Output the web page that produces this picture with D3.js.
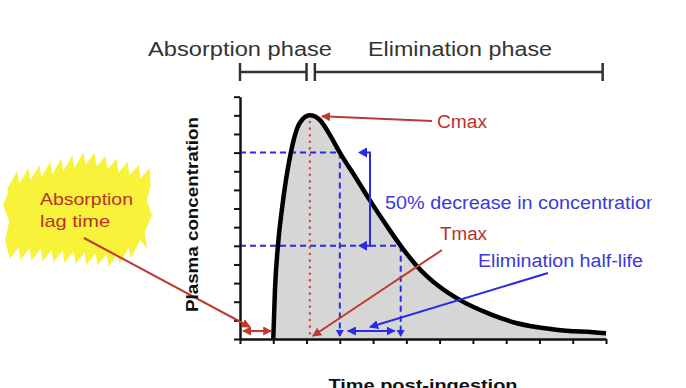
<!DOCTYPE html>
<html><head><meta charset="utf-8">
<script src="https://cdn.jsdelivr.net/npm/d3@7"></script>
<style>body{margin:0;background:#fff}svg{display:block}text{font-family:Arial,"Liberation Sans",sans-serif}</style>
</head><body><svg id="c" width="686" height="388"></svg>
<script>
// Data (time in x-tick units, concentration in y-tick units)
const curveT = [1.0, 1.05, 1.15, 1.27, 1.5, 1.8, 2.1, 2.4, 2.7, 3.0, 3.5, 3.9, 4.4, 4.83, 5.3, 6.0, 6.6, 7.5, 8.3, 9.5, 10.9, 11.0];
const curveC = [0, 2.6, 5.2, 7.1, 9.75, 11.6, 12.0, 11.75, 10.95, 10.0, 8.6, 7.45, 6.1, 5.0, 3.95, 2.8, 2.1, 1.35, 0.86, 0.5, 0.32, 0.3];
const xTicks = [0,1,2,3,4,5,6,7,8,9,10,11];
const yTicks = [0,1,2,3,4,5,6,7,8,9,10,11,12,13];
const lagTime = 1.0, tmax = 2.1, cmax = 12.0;
const t80 = 3.0, c80 = 10.0, tHalf = 4.83, cHalf = 5.0;
const phases = [{label:"Absorption phase", t0:0, t1:2.0, cx:240}, {label:"Elimination phase", t0:2.25, t1:10.9, cx:460}];
const labels = {y:"Plasma concentration", x:"Time post-ingestion"};

const svg = d3.select("#c");
const x = d3.scaleLinear().domain([0,11]).range([240,606]);
const y = d3.scaleLinear().domain([0,13]).range([339,96.7]);
const red = "#c0392f", blue = "#2b2be6", txtRed = "#b8322c", txtBlue = "#3a3ad8";

const defs = svg.append("defs");
function marker(id, color){
  defs.append("marker").attr("id",id).attr("viewBox","0 0 10 10").attr("refX",9).attr("refY",5)
    .attr("markerWidth",4.5).attr("markerHeight",4.5).attr("orient","auto-start-reverse")
    .append("path").attr("d","M0,0L10,5L0,10z").attr("fill",color);
}
marker("ar", red); marker("ab", blue);
defs.append("clipPath").attr("id","clipR").append("rect").attr("x",0).attr("y",0).attr("width",652).attr("height",388);

function txt(s, px, py, size, color, len, opts={}){
  const t = svg.append("text").attr("x",px).attr("y",py).attr("fill",color).attr("font-size",size).text(s);
  if(len) t.attr("textLength",len).attr("lengthAdjust","spacingAndGlyphs");
  if(opts.anchor) t.attr("text-anchor",opts.anchor);
  if(opts.bold) t.attr("font-weight","bold");
  if(opts.clip) t.attr("clip-path",opts.clip);
  return t;
}

// Yellow highlighter blob (sawtooth brush edges)
(function(){
  const lerp=(pts,xx)=>{for(let i=0;i<pts.length-1;i++){const [a,b]=[pts[i],pts[i+1]]; if(xx>=a[0]&&xx<=b[0]) return a[1]+(b[1]-a[1])*(xx-a[0])/(b[0]-a[0]);} return pts[pts.length-1][1];};
  const topP=[[8,176],[88,153],[150,170]], botP=[[10,257],[115,265],[145,248]];
  const P=[];
  for(let xx=8; xx<146; xx+=11){ P.push([xx, lerp(topP,xx)+13]); P.push([xx+9, lerp(topP,xx+9)]); }
  P.push([150,185]); P.push([146,200]); P.push([151,215]); P.push([144,232]); P.push([146,246]);
  for(let xx=140; xx>10; xx-=11){ P.push([xx, lerp(botP,xx)-12]); P.push([xx-9, lerp(botP,xx-9)]); }
  P.push([6,240]); P.push([10,222]); P.push([4,205]); P.push([9,192]);
  svg.append("path").attr("d", d3.line()(P)+"Z").attr("fill","#f7f23a").attr("stroke","#f7f23a").attr("stroke-width",1.5);
})();
txt("Absorption",40,205,17,txtRed,93);
txt("lag time",40,227,17,txtRed,70);

// Area and curve
const pts = curveT.map((t,i)=>[t,curveC[i]]);
svg.append("path").attr("d", d3.area().x(d=>x(d[0])).y0(y(0)).y1(d=>y(d[1])).curve(d3.curveMonotoneX)(pts))
  .attr("fill","#d6d6d6");

// Dashed guide lines
const dash = (x1,y1,x2,y2)=>svg.append("line").attr("x1",x1).attr("y1",y1).attr("x2",x2).attr("y2",y2)
  .attr("stroke",blue).attr("stroke-width",2).attr("stroke-dasharray","6,4");
dash(x(0),y(c80),x(t80),y(c80));
dash(x(0),y(cHalf),x(tHalf),y(cHalf));
dash(x(t80),y(c80),x(t80),y(0)-3);
dash(x(tHalf),y(cHalf),x(tHalf),y(0)-3);
[t80,tHalf].forEach(t=>svg.append("path").attr("d",`M${x(t)-4},${y(0)-9}L${x(t)+4},${y(0)-9}L${x(t)},${y(0)-2}z`).attr("fill",blue));

// Tmax dotted
svg.append("line").attr("x1",x(tmax)).attr("x2",x(tmax)).attr("y1",y(cmax)).attr("y2",y(0))
  .attr("stroke","#d44a4a").attr("stroke-width",2.5).attr("stroke-dasharray","0.1,6.5").attr("stroke-linecap","round");

svg.append("path").attr("d", d3.line().x(d=>x(d[0])).y(d=>y(d[1])).curve(d3.curveMonotoneX)(pts))
  .attr("fill","none").attr("stroke","#000").attr("stroke-width",4.5);

// Axes
const ax = svg.append("g").attr("transform",`translate(0,${y(0)})`)
  .call(d3.axisBottom(x).tickValues(xTicks).tickFormat("").tickSize(5).tickSizeOuter(0));
const ay = svg.append("g").attr("transform",`translate(${x(0)},0)`)
  .call(d3.axisLeft(y).tickValues(yTicks).tickFormat("").tickSize(6).tickSizeOuter(0));
[ax,ay].forEach(g=>{g.select(".domain").attr("stroke","#111").attr("stroke-width",2.5);
  g.selectAll(".tick line").attr("stroke","#111").attr("stroke-width",2);});

// Blue bracket
const bx = 370;
svg.append("path").attr("d",`M${bx-8},${y(c80)}L${bx},${y(c80)}L${bx},${y(cHalf)}L${bx-8},${y(cHalf)}`)
  .attr("fill","none").attr("stroke",blue).attr("stroke-width",2);
[y(c80),y(cHalf)].forEach(py=>svg.append("path").attr("d",`M${bx-3},${py-5}L${bx-3},${py+5}L${bx-12},${py}z`).attr("fill",blue));

// double arrows
svg.append("line").attr("x1",x(t80)+8).attr("x2",x(tHalf)-6).attr("y1",331).attr("y2",331)
  .attr("stroke",blue).attr("stroke-width",2).attr("marker-start","url(#ab)").attr("marker-end","url(#ab)");
svg.append("line").attr("x1",x(0)+3).attr("x2",x(lagTime)-2).attr("y1",331).attr("y2",331)
  .attr("stroke",red).attr("stroke-width",2).attr("marker-start","url(#ar)").attr("marker-end","url(#ar)");

// annotation arrows
const arrow=(x1,y1,x2,y2,c,m)=>svg.append("line").attr("x1",x1).attr("y1",y1).attr("x2",x2).attr("y2",y2)
  .attr("stroke",c).attr("stroke-width",2).attr("marker-end",`url(#${m})`);
arrow(432,121,x(tmax)+12,y(cmax)+1,red,"ar");
arrow(442,250,x(tmax)+3,336,red,"ar");
arrow(84,238,250,327,red,"ar");
arrow(548,273,370,327,blue,"ab");

txt("Cmax",437,128,18,txtRed,50);
txt("Tmax",440,240,18,txtRed,47);
txt("Elimination half-life",478,267,18,txtBlue,165);
txt("50% decrease in concentration",385,209,18,txtBlue,272,{clip:"url(#clipR)"});

// phase brackets
phases.forEach(p=>{
  const a=x(p.t0), b=x(p.t1), yy=72;
  svg.append("path").attr("d",`M${a},${yy-9}V${yy+9}M${a},${yy}H${b}M${b},${yy-9}V${yy+9}`)
    .attr("fill","none").attr("stroke","#333").attr("stroke-width",2.5);
  txt(p.label,p.cx,56,20,"#333",184,{anchor:"middle"});
});

// axis titles
txt(labels.y,0,0,16,"#111",195,{anchor:"middle",bold:true}).attr("transform","translate(198,214.5) rotate(-90)");
txt(labels.x,423,391,17,"#111",189,{anchor:"middle",bold:true});
</script></body></html>
